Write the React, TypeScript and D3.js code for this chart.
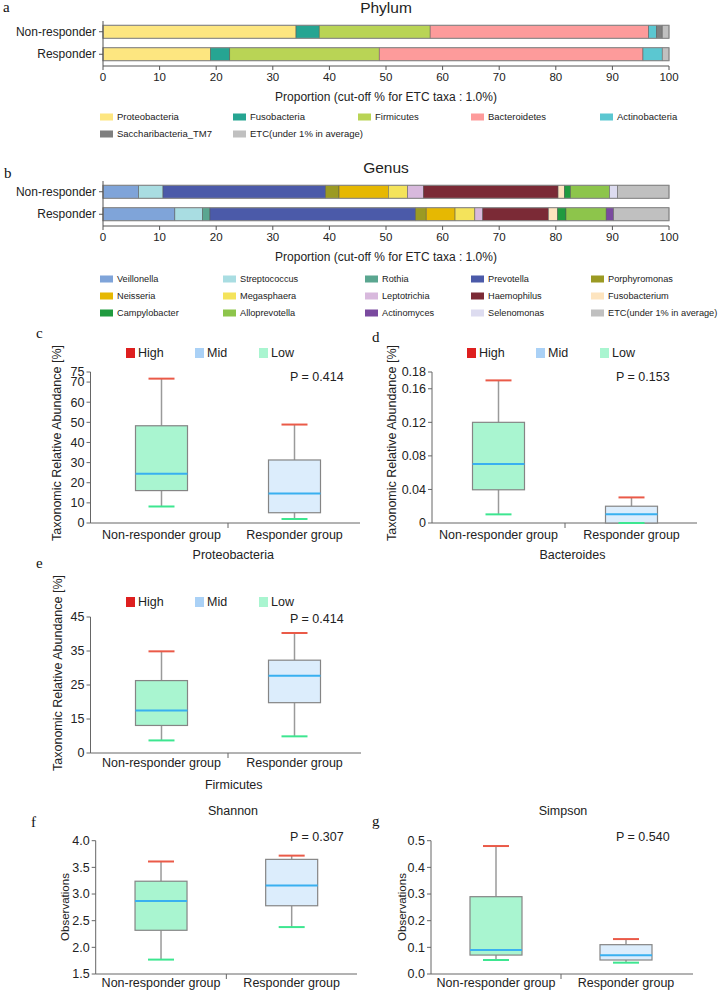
import React from "react";
import * as d3 from "d3";

// ---------- DATA ----------
const groups = ["Non-responder", "Responder"];
const boxGroups = ["Non-responder group", "Responder group"];
const barTicks = [0, 10, 20, 30, 40, 50, 60, 70, 80, 90, 100];

const phylumNames = ["Proteobacteria", "Fusobacteria", "Firmicutes", "Bacteroidetes", "Actinobacteria", "Saccharibacteria_TM7", "ETC(under 1% in average)"];
const phylumColors = ["#fde680", "#26a592", "#b9d455", "#fd9b9b", "#5bc7d1", "#7f7f7f", "#c0c0c0"];
const phylumNonResponder = [34.1, 4.1, 19.6, 38.6, 1.4, 1.0, 1.2];
const phylumResponder = [19.0, 3.4, 26.4, 46.6, 3.4, 0, 1.2];

const genusNames = ["Veillonella", "Streptococcus", "Rothia", "Prevotella", "Porphyromonas", "Neisseria", "Megasphaera", "Leptotrichia", "Haemophilus", "Fusobacterium", "Campylobacter", "Alloprevotella", "Actinomyces", "Selenomonas", "ETC(under 1% in average)"];
const genusColors = ["#7fa4d9", "#a9dde2", "#5aa690", "#4b5aa9", "#9b9a23", "#e6b802", "#f4e35b", "#d8b9dd", "#7b2a36", "#fde4bf", "#209b3f", "#8dc54b", "#7a4a9f", "#dddcf0", "#c0c0c0"];
const genusNonResponder = [6.3, 4.3, 0, 28.7, 2.4, 8.7, 3.4, 2.8, 23.8, 1.1, 1.1, 6.9, 0, 1.4, 9.1];
const genusResponder = [12.7, 4.9, 1.3, 36.3, 1.9, 5.1, 3.5, 1.4, 11.6, 1.6, 1.5, 7.1, 1.3, 0, 9.8];

const levelNames = ["High", "Mid", "Low"];
const levelColors = ["#de1f1f", "#aad1f6", "#a9f5d0"];

// box stats: [low whisker, Q1, median, Q3, high whisker]
const proteoStats = [[8.2, 16.1, 24.4, 48.3, 71.7], [2.0, 5.1, 14.7, 31.3, 48.9]];
const proteoTicks = [0, 10, 20, 30, 40, 50, 60, 70, 75];
const proteoTickLabels = ["0", "10", "20", "30", "40", "50", "60", "70", "75"];

const bacteroidesStats = [[0.0103, 0.0396, 0.0704, 0.12, 0.17], [0, 0, 0.0103, 0.02, 0.0305]];
const bacteroidesTicks = [0, 0.04, 0.08, 0.12, 0.16, 0.18];
const bacteroidesTickLabels = ["0", "0.04", "0.08", "0.12", "0.16", "0.18"];

const firmicutesStats = [[8.7, 13.1, 17.5, 26.3, 34.9], [9.9, 19.8, 27.7, 32.3, 40.3]];
const firmicutesTicks = [5, 15, 25, 35, 45];
const firmicutesTickLabels = ["0", "15", "25", "35", "45"];

const shannonStats = [[1.77, 2.32, 2.87, 3.24, 3.61], [2.38, 2.78, 3.16, 3.65, 3.72]];
const shannonTicks = [1.5, 2.0, 2.5, 3.0, 3.5, 4.0];
const shannonTickLabels = ["1.5", "2.0", "2.5", "3.0", "3.5", "4.0"];

const simpsonStats = [[0.0525, 0.071, 0.09, 0.29, 0.48], [0.0425, 0.0525, 0.07, 0.11, 0.131]];
const simpsonTicks = [0, 0.1, 0.2, 0.3, 0.4, 0.5];
const simpsonTickLabels = ["0.0", "0.1", "0.2", "0.3", "0.4", "0.5"];

const boxFills = ["#a9f5d0", "#dcedfc"];

const FONT = "'Liberation Sans', Arial, Helvetica, sans-serif";
const SERIF = "'Liberation Serif', 'Times New Roman', serif";

// ---------- STACKED BAR ----------
function StackedBar({ top, title, names, colors, series, legendX, legendY, legendFont }: any) {
  const x = d3.scaleLinear().domain([0, 100]).range([103, 669]);
  const y = d3.scaleBand().domain(groups).range([top + 19.6, top + 66.4]).paddingInner(0.422).paddingOuter(0.25);
  const axisY = top + 66;
  return (
    <g fontFamily={FONT}>
      <text x={386} y={top + 13} fontSize={15.5} textAnchor="middle" fill="#222">{title}</text>
      {groups.map((gName, gi) => {
        const vals = series[gi];
        const cum = d3.cumsum(vals);
        const yy = y(gName) as number;
        return (
          <g key={gName}>
            {vals.map((v: number, i: number) => v > 0 ? (
              <rect key={i} x={x(cum[i] - v)} y={yy} width={x(cum[i]) - x(cum[i] - v)} height={y.bandwidth()} fill={colors[i]} stroke="#555" strokeWidth={0.5} />
            ) : null)}
            <rect x={x(0)} y={yy} width={x(100) - x(0)} height={y.bandwidth()} fill="none" stroke="#8a8a8a" strokeWidth={1} />
            <line x1={99} x2={103} y1={yy + y.bandwidth() / 2} y2={yy + y.bandwidth() / 2} stroke="#555" />
            <text x={96} y={yy + y.bandwidth() / 2} dy="0.35em" fontSize={12} textAnchor="end" fill="#222">{gName}</text>
          </g>
        );
      })}
      <line x1={103} x2={103} y1={top + 21} y2={axisY} stroke="#555" />
      <line x1={103} x2={669} y1={axisY} y2={axisY} stroke="#555" />
      {barTicks.map((t) => (
        <g key={t}>
          <line x1={x(t)} x2={x(t)} y1={axisY} y2={axisY + 4} stroke="#555" />
          <text x={x(t)} y={axisY + 15} fontSize={11.5} textAnchor="middle" fill="#222">{t}</text>
        </g>
      ))}
      <text x={386} y={axisY + 35} fontSize={12} textAnchor="middle" fill="#222">Proportion (cut-off % for ETC taxa : 1.0%)</text>
      {names.map((n: string, i: number) => {
        const col = i % 5;
        const row = Math.floor(i / 5);
        const lx = legendX[col];
        const ly = legendY[row];
        return (
          <g key={n}>
            <rect x={lx} y={ly - 3.5} width={13} height={7} fill={colors[i]} />
            <text x={lx + 17} y={ly} dy="0.35em" fontSize={legendFont} fill="#222">{n}</text>
          </g>
        );
      })}
    </g>
  );
}

// ---------- BOX PLOT ----------
function BoxPlot(p: any) {
  const x = d3.scaleBand().domain(boxGroups).range(p.bandRange).padding(0);
  const y = d3.scaleLinear().domain(p.domain).range(p.yRange);
  const bw = 52;
  const capW = 26;
  const axisY = p.yRange[0];
  const mid = x(boxGroups[1]) as number;
  return (
    <g fontFamily={FONT} fill="#222">
      <line x1={p.axisX0} x2={p.axisX0} y1={y(p.domain[1])} y2={axisY} stroke="#666" />
      {p.ticks.map((t: number, i: number) => (
        <g key={t}>
          <line x1={p.axisX0 - 4} x2={p.axisX0} y1={y(t)} y2={y(t)} stroke="#666" />
          <text x={p.axisX0 - 6} y={y(t)} dy="0.35em" fontSize={12.5} textAnchor="end">{p.tickLabels[i]}</text>
        </g>
      ))}
      <line x1={p.axisX0} x2={p.axisX1} y1={axisY} y2={axisY} stroke="#666" />
      <line x1={mid} x2={mid} y1={axisY} y2={axisY + 5} stroke="#666" />
      {boxGroups.map((g, gi) => {
        const cx = (x(g) as number) + x.bandwidth() / 2;
        const [lo, q1, med, q3, hi] = p.stats[gi];
        return (
          <g key={g}>
            <line x1={cx} x2={cx} y1={y(hi)} y2={y(q3)} stroke="#9a9a9a" strokeWidth={1.5} />
            <line x1={cx} x2={cx} y1={y(q1)} y2={y(lo)} stroke="#9a9a9a" strokeWidth={1.5} />
            <rect x={cx - bw / 2} y={y(q3)} width={bw} height={Math.max(0, y(q1) - y(q3))} fill={boxFills[gi]} stroke="#858585" strokeWidth={1.2} />
            <line x1={cx - bw / 2} x2={cx + bw / 2} y1={y(med)} y2={y(med)} stroke="#39b0f0" strokeWidth={2} />
            <line x1={cx - capW / 2} x2={cx + capW / 2} y1={y(hi)} y2={y(hi)} stroke="#ea5a48" strokeWidth={2} />
            <line x1={cx - capW / 2} x2={cx + capW / 2} y1={y(lo)} y2={y(lo)} stroke="#3de690" strokeWidth={2} />
            <text x={cx} y={axisY + p.labelOffset} fontSize={12.5} textAnchor="middle">{g}</text>
          </g>
        );
      })}
      <text x={p.pX} y={p.pY} dy="0.35em" fontSize={12.5}>{p.pText}</text>
      {p.xTitle ? <text x={(p.axisX0 + p.axisX1) / 2 + 8} y={axisY + 36} fontSize={12.5} textAnchor="middle">{p.xTitle}</text> : null}
      <text transform={`translate(${p.yTitleX},${p.yTitleY}) rotate(-90)`} dy="0.35em" fontSize={p.yTitleSize} textAnchor="middle">{p.yTitle}</text>
      {p.legendX ? levelNames.map((n, i) => (
        <g key={n}>
          <rect x={p.legendX[i]} y={p.legendY - 5} width={9} height={10} fill={levelColors[i]} />
          <text x={p.legendX[i] + 12} y={p.legendY} dy="0.35em" fontSize={12.5}>{n}</text>
        </g>
      )) : null}
      {p.title ? <text x={p.titleX} y={p.titleY} dy="0.35em" fontSize={12.5} textAnchor="middle">{p.title}</text> : null}
    </g>
  );
}

export default function App() {
  return (
    <svg width={722} height={991} style={{ position: "absolute", left: 0, top: 0, background: "#fff" }}>
      <rect width={722} height={991} fill="#fff" />
      <g fontFamily={SERIF} fontSize={15} fill="#111">
        <text x={3} y={12}>a</text>
        <text x={4} y={178}>b</text>
        <text x={36} y={338}>c</text>
        <text x={372} y={342}>d</text>
        <text x={36} y={568}>e</text>
        <text x={31} y={827}>f</text>
        <text x={372} y={826}>g</text>
      </g>
      <StackedBar top={0} title="Phylum" names={phylumNames} colors={phylumColors} legendFont={9.5}
        series={[phylumNonResponder, phylumResponder]} legendX={[100, 233, 358, 471, 600]} legendY={[117, 134]} />
      <StackedBar top={160} title="Genus" names={genusNames} colors={genusColors} legendFont={9.2}
        series={[genusNonResponder, genusResponder]} legendX={[100, 223, 365, 471, 591]} legendY={[279, 296, 313]} />

      <BoxPlot axisX0={90.5} axisX1={360} bandRange={[95, 361]} yRange={[523, 372]} domain={[0, 75]}
        ticks={proteoTicks} tickLabels={proteoTickLabels} stats={proteoStats} labelOffset={15.5}
        pText="P = 0.414" pX={290} pY={377} xTitle="Proteobacteria"
        yTitle="Taxonomic Relative Abundance [%]" yTitleX={57} yTitleY={443} yTitleSize={12.5}
        legendX={[126, 195, 259]} legendY={353} />
      <BoxPlot axisX0={432} axisX1={697} bandRange={[432, 698]} yRange={[523, 372]} domain={[0, 0.18]}
        ticks={bacteroidesTicks} tickLabels={bacteroidesTickLabels} stats={bacteroidesStats} labelOffset={15.5}
        pText="P = 0.153" pX={616} pY={377} xTitle="Bacteroides"
        yTitle="Taxonomic Relative Abundance [%]" yTitleX={392} yTitleY={443} yTitleSize={12.5}
        legendX={[467, 536, 600]} legendY={353} />
      <BoxPlot axisX0={90.5} axisX1={361} bandRange={[95, 361]} yRange={[753, 617]} domain={[5, 45]}
        ticks={firmicutesTicks} tickLabels={firmicutesTickLabels} stats={firmicutesStats} labelOffset={14}
        pText="P = 0.414" pX={290} pY={619} xTitle="Firmicutes"
        yTitle="Taxonomic Relative Abundance [%]" yTitleX={58} yTitleY={673} yTitleSize={12.5}
        legendX={[126, 195, 259]} legendY={602} />
      <BoxPlot axisX0={95.7} axisX1={357} bandRange={[95.7, 357]} yRange={[974, 840.7]} domain={[1.5, 4.0]}
        ticks={shannonTicks} tickLabels={shannonTickLabels} stats={shannonStats} labelOffset={12.5}
        pText="P = 0.307" pX={290} pY={837} title="Shannon" titleX={233} titleY={811}
        yTitle="Observations" yTitleX={65} yTitleY={907} yTitleSize={11.5} />
      <BoxPlot axisX0={431} axisX1={693} bandRange={[431, 691]} yRange={[974, 840.7]} domain={[0, 0.5]}
        ticks={simpsonTicks} tickLabels={simpsonTickLabels} stats={simpsonStats} labelOffset={12.5}
        pText="P = 0.540" pX={616} pY={837} title="Simpson" titleX={563} titleY={811}
        yTitle="Observations" yTitleX={402} yTitleY={907} yTitleSize={11.5} />
    </svg>
  );
}
